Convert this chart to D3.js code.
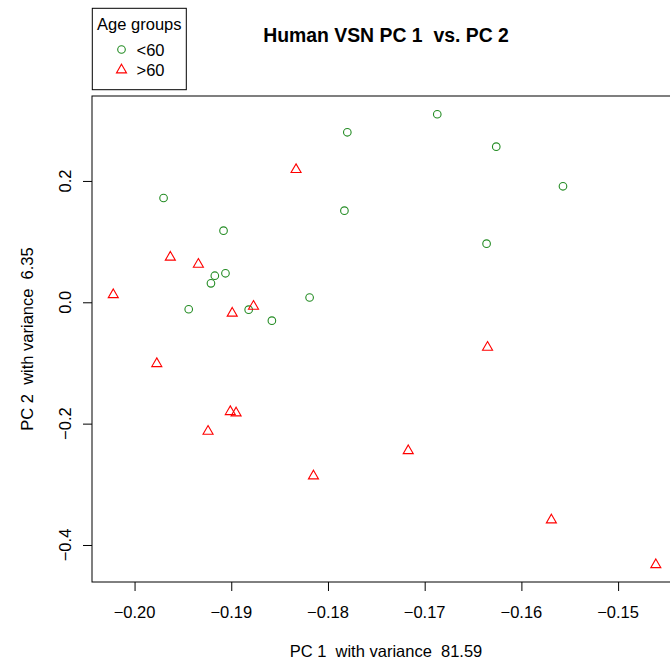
<!DOCTYPE html>
<html>
<head>
<meta charset="utf-8">
<script src="https://cdn.jsdelivr.net/npm/d3@7"></script>
<style>
  html, body { margin: 0; padding: 0; background: #fff; }
  svg { display: block; font-family: "Liberation Sans", Arial, Helvetica, sans-serif; }
  svg text { white-space: pre; }
</style>
</head>
<body>
<svg id="chart" width="670" height="669"></svg>
<script>
// ---- data ----
const groups = ["<60", ">60"];
const under60PC1 = [-0.1970, -0.1908, -0.1917, -0.1906, -0.1921, -0.1944, -0.1882, -0.1858, -0.1819, -0.1687, -0.1780, -0.1626, -0.1557, -0.1783, -0.1636];
const under60PC2 = [ 0.1719,  0.1180,  0.0438,  0.0478,  0.0313, -0.0115, -0.0122, -0.0303,  0.0079,  0.3099,  0.2802,  0.2565,  0.1912,  0.1510,  0.0966];
const over60PC1  = [-0.2022, -0.1963, -0.1934, -0.1899, -0.1877, -0.1833, -0.1977, -0.1901, -0.1895, -0.1924, -0.1815, -0.1717, -0.1635, -0.1569, -0.1461];
const over60PC2  = [ 0.0125,  0.0742,  0.0626, -0.0181, -0.0066,  0.2186, -0.1012, -0.1803, -0.1825, -0.2126, -0.2863, -0.2446, -0.0742, -0.3588, -0.4325];
const xTicks = [-0.20, -0.19, -0.18, -0.17, -0.16, -0.15];
const yTicks = [-0.4, -0.2, 0.0, 0.2];
const title = "Human VSN PC 1  vs. PC 2";
const xLabel = "PC 1  with variance  81.59";
const yLabel = "PC 2  with variance  6.35";
const legendTitle = "Age groups";

const green = "#228B22", red = "#FF0000";
const fs = 16.5;

const svg = d3.select("#chart");
const pL = 92, pR = 680, pT = 96, pB = 582;

const x = d3.scaleLinear().domain([-0.2044, -0.1436]).range([pL, pR]);
const y = d3.scaleLinear().domain([-0.461, 0.340]).range([pB, pT]);

// axes
const xAxis = svg.append("g").attr("transform", `translate(0,${pB})`)
  .call(d3.axisBottom(x).tickValues(xTicks).tickSize(9).tickFormat(""));
xAxis.select(".domain").remove();
xAxis.selectAll("line").attr("stroke", "#000").attr("stroke-width", 1);

const yAxis = svg.append("g").attr("transform", `translate(${pL},0)`)
  .call(d3.axisLeft(y).tickValues(yTicks).tickSize(9).tickFormat(""));
yAxis.select(".domain").remove();
yAxis.selectAll("line").attr("stroke", "#000").attr("stroke-width", 1);

const fx = d3.format(".2f"), fy = d3.format(".1f");
svg.append("g").selectAll("text").data(xTicks).join("text")
  .attr("x", d => x(d)).attr("y", 618)
  .attr("text-anchor", "middle").attr("font-size", fs).attr("fill", "#000")
  .text(d => fx(d));
svg.append("g").selectAll("text").data(yTicks).join("text")
  .attr("transform", d => `translate(71,${y(d)}) rotate(-90)`)
  .attr("text-anchor", "middle").attr("font-size", fs).attr("fill", "#000")
  .text(d => fy(d));

// box
svg.append("rect").attr("x", pL).attr("y", pT)
  .attr("width", pR - pL).attr("height", pB - pT)
  .attr("fill", "none").attr("stroke", "#000").attr("stroke-width", 1);

// labels
svg.append("text").attr("x", (pL + pR) / 2).attr("y", 657)
  .attr("text-anchor", "middle").attr("font-size", fs).text(xLabel);
svg.append("text").attr("transform", `translate(33,${(pT + pB) / 2}) rotate(-90)`)
  .attr("text-anchor", "middle").attr("font-size", fs).text(yLabel);
svg.append("text").attr("x", (pL + pR) / 2).attr("y", 41.5)
  .attr("text-anchor", "middle").attr("font-size", 19.4).attr("font-weight", "bold").text(title);

// points
const rC = 3.8, rT = 5.8;
const triPath = r => `M0,${-r}L${0.866 * r},${r / 2}L${-0.866 * r},${r / 2}Z`;

svg.append("g").selectAll("circle").data(d3.range(under60PC1.length)).join("circle")
  .attr("cx", i => x(under60PC1[i])).attr("cy", i => y(under60PC2[i])).attr("r", rC)
  .attr("fill", "none").attr("stroke", green).attr("stroke-width", 1.1);

svg.append("g").selectAll("path").data(d3.range(over60PC1.length)).join("path")
  .attr("transform", i => `translate(${x(over60PC1[i])},${y(over60PC2[i])})`)
  .attr("d", triPath(rT))
  .attr("fill", "none").attr("stroke", red).attr("stroke-width", 1.1);

// legend
const lg = svg.append("g");
lg.append("rect").attr("x", 92.3).attr("y", 8.3).attr("width", 94).attr("height", 81.4)
  .attr("fill", "#fff").attr("stroke", "#000").attr("stroke-width", 1);
lg.append("text").attr("x", 139.3).attr("y", 29.5).attr("text-anchor", "middle")
  .attr("font-size", fs).text(legendTitle);
lg.append("circle").attr("cx", 121.5).attr("cy", 49.5).attr("r", rC)
  .attr("fill", "none").attr("stroke", green).attr("stroke-width", 1.1);
lg.append("path").attr("transform", "translate(121.5,70)").attr("d", triPath(rT))
  .attr("fill", "none").attr("stroke", red).attr("stroke-width", 1.1);
lg.append("text").attr("x", 136.5).attr("y", 55.5).attr("font-size", fs).text(groups[0]);
lg.append("text").attr("x", 136.5).attr("y", 76).attr("font-size", fs).text(groups[1]);
</script>
</body>
</html>
